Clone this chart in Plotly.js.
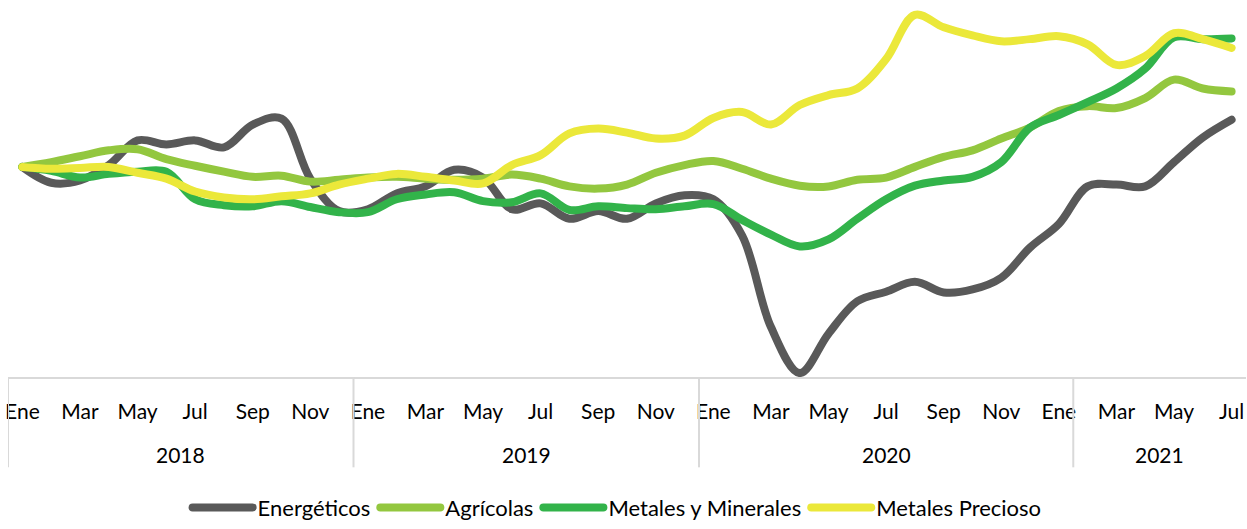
<!DOCTYPE html>
<html>
<head>
<meta charset="utf-8">
<script src="https://cdn.plot.ly/plotly-3.0.1.min.js"></script>
<style>
  html, body { margin: 0; padding: 0; background: #fff; }
  #chart { width: 1247px; height: 529px; }
  #chart path.js-line { stroke-linecap: round; stroke-linejoin: round; }
</style>
</head>
<body>
<div id="chart"></div>
<script>
// Month labels for each category (Ene 2018 .. Jul 2021)
const months = ['Ene','Feb','Mar','Abr','May','Jun','Jul','Ago','Sep','Oct','Nov','Dic',
                'Ene','Feb','Mar','Abr','May','Jun','Jul','Ago','Sep','Oct','Nov','Dic',
                'Ene','Feb','Mar','Abr','May','Jun','Jul','Ago','Sep','Oct','Nov','Dic',
                'Ene','Feb','Mar','Abr','May','Jun','Jul'];
// Year groups of the category axis (label and number of categories in each)
const yearLabels = ['2018','2019','2020','2021'];
const yearSpans  = [12, 12, 13, 6];

// Series (index, Ene 2018 = 100)
const energeticos = [100,95.7,96.3,100.5,107.2,106.1,107.2,105.3,111.5,113.1,96.8,88.0,
                     88.5,92.8,94.7,99.2,97.1,88.5,90.1,85.9,88.0,85.9,90.1,92.3,
                     91.2,81.3,56.5,44.0,54.7,63.5,66.1,68.8,65.9,66.7,69.9,78.1,
                     84.5,94.7,95.2,94.7,101.3,108.0,112.8];
const agricolas   = [100,101.3,102.9,104.5,104.8,102.1,100.3,98.7,97.3,97.6,96.0,96.5,
                     97.1,97.3,96.8,96.5,96.8,97.9,96.8,94.7,94.1,95.2,98.4,100.5,
                     101.6,99.5,96.8,94.9,94.7,96.5,97.1,100.0,102.7,104.5,107.7,110.7,
                     115.2,116.5,116.0,118.7,123.7,121.3,120.5];
const metales     = [100,98.9,97.1,98.1,98.7,98.7,91.2,89.6,89.3,90.7,89.1,87.7,
                     87.7,91.2,92.5,93.1,90.7,90.4,92.8,88.3,89.3,88.8,88.5,89.3,
                     89.9,85.6,81.6,78.4,80.3,85.9,91.2,94.9,96.3,97.3,101.3,110.7,
                     114.1,117.6,121.3,126.7,135.2,134.7,134.9];
const preciosos   = [100,99.5,99.7,100.0,98.4,96.8,93.3,91.7,91.2,92.0,92.8,95.2,
                     96.8,98.1,97.3,96.3,95.5,100.5,103.2,109.1,110.4,109.3,107.7,108.5,
                     113.3,114.9,111.5,116.8,119.5,121.3,129.3,141.3,137.9,135.7,134.1,134.7,
                     135.5,133.3,127.7,130.1,136.3,134.7,132.3];

const seriesNames  = ['Energéticos','Agrícolas','Metales y Minerales','Metales Precioso'];
const seriesData   = [energeticos, agricolas, metales, preciosos];
const seriesColors = ['#595959','#93c73f','#32b34a','#ebe83a'];

const xs = months.map((_, i) => i);

const traces = seriesData.map((vals, k) => ({
  type: 'scatter',
  mode: 'lines',
  name: seriesNames[k],
  x: xs,
  y: vals,
  line: { color: seriesColors[k], width: 8, shape: 'spline', smoothing: 1 },
  hoverinfo: 'skip'
}));

// tick labels every other category
const tickvals = xs.filter(i => i % 2 === 0);
const ticktext = tickvals.map(i => months[i]);

// group dividers and year labels computed from the spans
const shapes = [];
const annotations = [];
let start = -0.5;
const plotH = 384;
const divBottom = (plotH - 476) / plotH;
yearSpans.forEach((n, g) => {
  shapes.push({
    type: 'line', xref: 'x', yref: 'paper',
    x0: start, x1: start, y0: 0, y1: divBottom,
    line: { color: '#d9d9d9', width: 2 }
  });
  annotations.push({
    xref: 'x', yref: 'paper',
    x: start + n / 2, y: (plotH - 463) / plotH,
    yanchor: 'middle', xanchor: 'center',
    text: yearLabels[g], showarrow: false,
    font: { family: 'Lato, sans-serif', size: 21, color: '#000' }
  });
  start += n;
});

const layout = {
  width: 1247, height: 529,
  margin: { l: 8, r: 1, t: 0, b: 145 },
  paper_bgcolor: '#ffffff',
  plot_bgcolor: '#ffffff',
  showlegend: true,
  xaxis: {
    range: [-0.5, 42.5],
    showgrid: false, zeroline: false,
    showline: true, linecolor: '#d9d9d9', linewidth: 2,
    tickmode: 'array', tickvals: tickvals, ticktext: ticktext,
    ticks: '', ticklabelstandoff: 15,
    tickfont: { family: 'Lato, sans-serif', size: 21, color: '#000' },
    fixedrange: true
  },
  yaxis: {
    range: [42.93, 145.33],
    visible: false, showgrid: false, zeroline: false,
    fixedrange: true
  },
  legend: {
    orientation: 'h',
    x: 0.492, xanchor: 'center',
    y: (plotH - 517) / plotH, yanchor: 'middle',
    itemwidth: 60,
    font: { family: 'Lato, sans-serif', size: 22, color: '#000' },
    bgcolor: 'rgba(0,0,0,0)'
  },
  shapes: shapes,
  annotations: annotations
};

Plotly.newPlot('chart', traces, layout, { displayModeBar: false, staticPlot: true });
</script>
</body>
</html>
